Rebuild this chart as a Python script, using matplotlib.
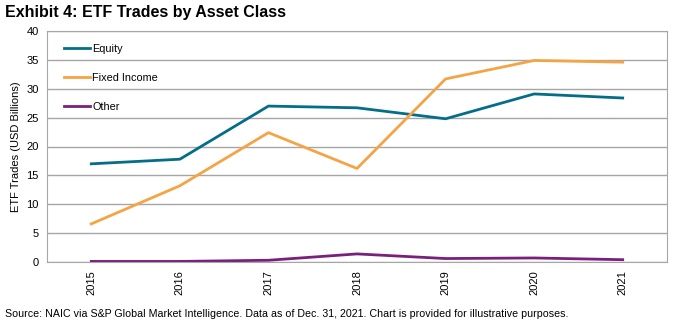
import matplotlib.pyplot as plt

plt.rcParams['font.family'] = ['Liberation Sans', 'DejaVu Sans']

years = ['2015', '2016', '2017', '2018', '2019', '2020', '2021']
equity = [17.0, 17.8, 27.0, 26.7, 24.8, 29.1, 28.4]
fixed_income = [6.6, 13.2, 22.4, 16.2, 31.7, 34.9, 34.6]
other = [0.1, 0.1, 0.3, 1.4, 0.6, 0.7, 0.4]

fig = plt.figure(figsize=(6.75, 3.23), dpi=100)
ax = fig.add_axes([47 / 675, 1 - 262 / 323, 620 / 675, 231 / 323])

x = list(range(len(years)))
ax.plot(x, equity, color='#046E8A', lw=2, label='Equity')
ax.plot(x, fixed_income, color='#F5A445', lw=2, label='Fixed Income')
ax.plot(x, other, color='#79207C', lw=2, label='Other')

ax.set_xlim(-0.5, len(years) - 0.5)
ax.set_ylim(0, 40)
ax.set_yticks(range(0, 41, 5))
ax.set_xticks(x)
ax.set_xticklabels(years, rotation=90, fontsize=8)
ax.tick_params(axis='y', labelsize=8, length=0, pad=6)
ax.tick_params(axis='x', length=0, pad=6)
ax.grid(axis='y', color='#A6A6A6', lw=1)
ax.set_axisbelow(True)
for s in ax.spines.values():
    s.set_color('#A6A6A6')
ax.set_ylabel('ETF Trades (USD Billions)', fontsize=8)

ax.legend(loc='upper left', frameon=False, fontsize=7.8, handlelength=2.4,
          handletextpad=0.2, labelspacing=1.75, bbox_to_anchor=(0.012, 0.985))

fig.text(0.008, 0.985, 'Exhibit 4: ETF Trades by Asset Class', fontsize=11.5,
         fontweight='bold', va='top')
fig.text(0.008, 0.012, 'Source: NAIC via S&P Global Market Intelligence. Data as of Dec. 31, 2021. '
         'Chart is provided for illustrative purposes.', fontsize=7.7, va='bottom')

fig.savefig('out.png', dpi=100)
